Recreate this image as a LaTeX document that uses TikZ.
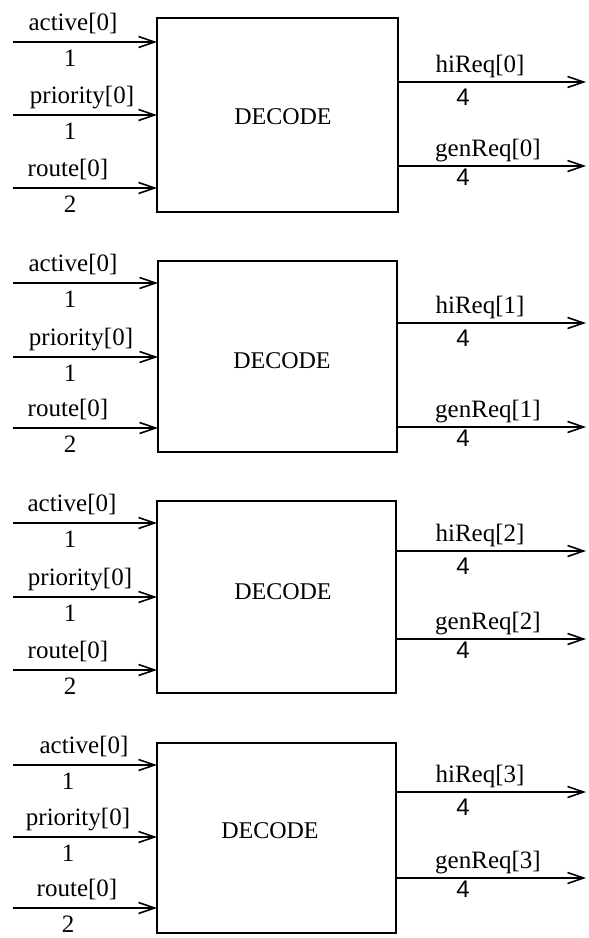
\documentclass[tikz,border=0pt]{standalone}
\usepackage{fontspec}
\setmainfont{Liberation Serif}
\newfontfamily\numfont{Liberation Sans}
\usetikzlibrary{arrows.meta}
\begin{document}
\begin{tikzpicture}[x=1pt,y=-1pt,
  wire/.style={line width=1.8pt,-{Straight Barb[length=16pt,width=11pt,line width=1.6pt]}},
  box/.style={draw,line width=1.8pt,inner sep=0pt,outer sep=0pt},
  lbl/.style={inner sep=0pt,anchor=base,font=\fontsize{25}{30}\selectfont},
  title/.style={inner sep=0pt,anchor=center,font=\fontsize{24}{28}\selectfont},
  wnum/.style={inner sep=0pt,anchor=base,font=\numfont\fontsize{24}{28}\selectfont}]
\useasboundingbox (0,0) rectangle (589,938);
% one decoder block per line:
% index / top / bottom / left / right / three input rows / two output rows /
% title position / x of the three input names / x of the widths
\foreach \i/\t/\b/\l/\r/\ya/\yb/\yc/\ha/\hb/\dx/\dy/\xa/\xp/\xr/\xn in {
  0/18/212/157/398/42/115/188/82/166/283/117/73/82/68/70,
  1/261/452/158/397/283/357/428/323/427/282/361/73/81/68/70,
  2/501/693/157/396/523/597/670/551/639/283/592/72/80/68/70,
  3/743/933/157/396/765/837/908/792/878/270/831/84/78/77/68}
{
  \node[box, minimum width={(\r-\l)*1pt}, minimum height={(\b-\t)*1pt}]
    (box\i) at ({(\l+\r)/2},{(\t+\b)/2}) {};
  \node[title] (dec\i) at (\dx,\dy) {DECODE};
  % inputs
  \coordinate (ia\i) at (13,\ya);
  \coordinate (ip\i) at (13,\yb);
  \coordinate (ir\i) at (13,\yc);
  \draw[wire] (ia\i) -- (ia\i -| box\i.west);
  \draw[wire] (ip\i) -- (ip\i -| box\i.west);
  \draw[wire] (ir\i) -- (ir\i -| box\i.west);
  \node[lbl] (la\i) at (\xa,\ya-12) {active[0]};
  \node[lbl] (na\i) at (\xn,\ya+24) {1};
  \node[lbl] (lp\i) at (\xp,\yb-12) {priority[0]};
  \node[lbl] (np\i) at (\xn,\yb+24) {1};
  \node[lbl] (lr\i) at (\xr,\yc-12) {route[0]};
  \node[lbl] (nr\i) at (\xn,\yc+24) {2};
  % outputs
  \coordinate (oh\i) at (586,\ha);
  \coordinate (og\i) at (586,\hb);
  \draw[wire] (oh\i -| box\i.east) -- (oh\i);
  \draw[wire] (og\i -| box\i.east) -- (og\i);
  \node[lbl] (lh\i) at (480,\ha-10) {hiReq[\i]};
  \node[wnum] (nh\i) at (463,\ha+23) {4};
  \node[lbl] (lg\i) at (488,\hb-10) {genReq[\i]};
  \node[wnum] (ng\i) at (463,\hb+19) {4};
}
\end{tikzpicture}
\end{document}
